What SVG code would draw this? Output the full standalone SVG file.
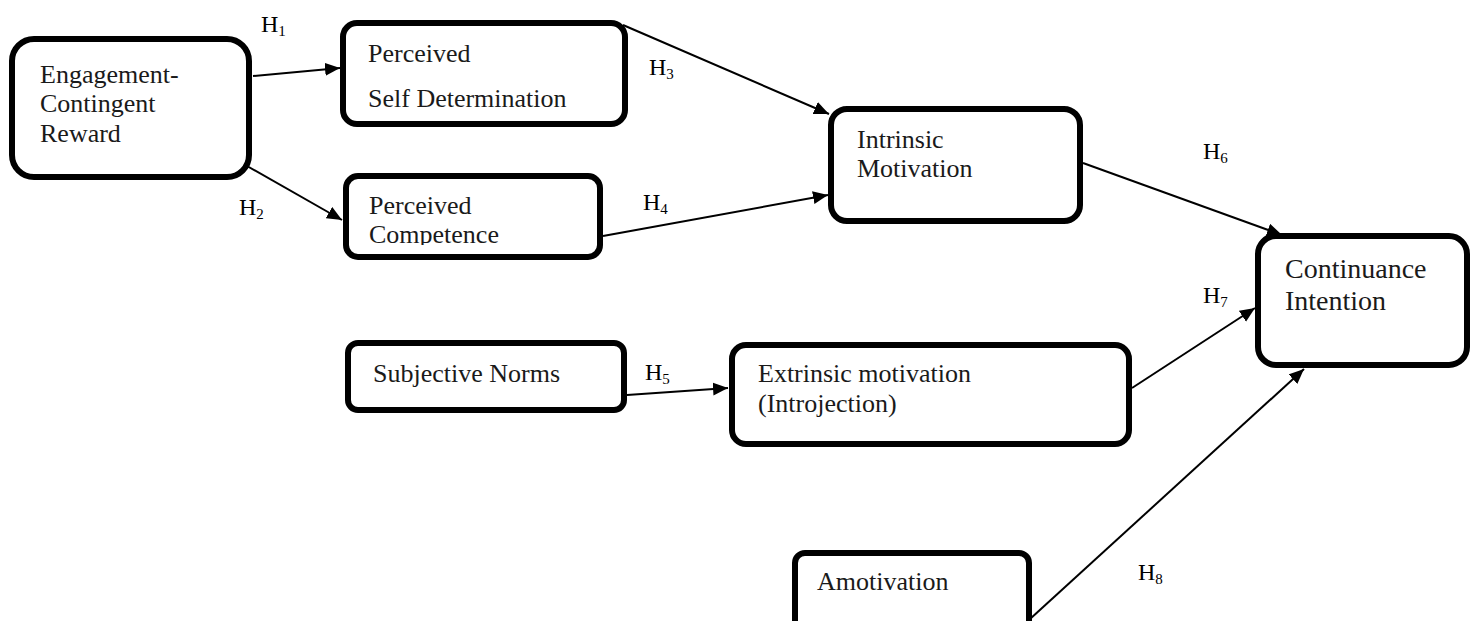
<svg xmlns="http://www.w3.org/2000/svg" width="1476" height="621" viewBox="0 0 1476 621">
<style>
.box{fill:#fff;stroke:#000;stroke-width:6}
.t{font-family:"Liberation Serif","Times New Roman","DejaVu Serif",serif;font-size:26px;fill:#1a1a1a}
.h{font-family:"Liberation Serif","Times New Roman","DejaVu Serif",serif;font-size:24px;fill:#000}
.s{font-size:15px}
.c{stroke:#000;stroke-width:2;fill:none;marker-end:url(#ah)}
</style>
<defs>
<marker id="ah" markerWidth="16" markerHeight="14" refX="15" refY="6.5" orient="auto" markerUnits="userSpaceOnUse">
<path d="M0,0 L15,6.5 L0,13 Z" fill="#000"/>
</marker>
<clipPath id="pcclip"><rect x="346" y="176" width="254" height="69"/></clipPath>
</defs>
<rect width="1476" height="621" fill="#fff"/>
<g id="connectors">
<line class="c" x1="253" y1="76" x2="340" y2="68"/>
<line class="c" x1="240" y1="162" x2="342" y2="220"/>
<line class="c" x1="623" y1="25" x2="829" y2="114"/>
<line class="c" x1="603" y1="236" x2="828" y2="195"/>
<line class="c" x1="1083" y1="163" x2="1282" y2="235"/>
<line class="c" x1="627" y1="395" x2="728" y2="388"/>
<line class="c" x1="1132" y1="388" x2="1255" y2="308"/>
<line class="c" x1="1030" y1="619" x2="1304" y2="369"/>
</g>
<g id="labels">
<text class="h" x="261" y="32">H<tspan class="s" dy="4">1</tspan></text>
<text class="h" x="239" y="215">H<tspan class="s" dy="4">2</tspan></text>
<text class="h" x="649" y="75">H<tspan class="s" dy="4">3</tspan></text>
<text class="h" x="643" y="210">H<tspan class="s" dy="4">4</tspan></text>
<text class="h" x="645" y="380">H<tspan class="s" dy="4">5</tspan></text>
<text class="h" x="1203" y="159">H<tspan class="s" dy="4">6</tspan></text>
<text class="h" x="1203" y="303">H<tspan class="s" dy="4">7</tspan></text>
<text class="h" x="1138" y="580">H<tspan class="s" dy="4">8</tspan></text>
</g>
<g id="engagement">
<rect class="box" x="12" y="39" width="237" height="138" rx="22"/>
<text class="t" x="40" y="83">Engagement-</text>
<text class="t" x="40" y="112">Contingent</text>
<text class="t" x="40" y="142">Reward</text>
</g>
<g id="self-determination">
<rect class="box" x="343" y="23" width="282" height="101" rx="14"/>
<text class="t" x="368" y="62">Perceived</text>
<text class="t" x="368" y="107">Self Determination</text>
</g>
<g id="competence">
<rect class="box" x="346" y="176" width="254" height="81" rx="12"/>
<g clip-path="url(#pcclip)">
<text class="t" x="369" y="214">Perceived</text>
<text class="t" x="369" y="243">Competence</text>
</g>
</g>
<g id="intrinsic">
<rect class="box" x="831" y="109" width="249" height="112" rx="16"/>
<text class="t" x="857" y="148">Intrinsic</text>
<text class="t" x="857" y="177">Motivation</text>
</g>
<g id="continuance">
<rect class="box" x="1258" y="236" width="209" height="129" rx="18"/>
<text class="t" x="1285" y="278" style="font-size:28px">Continuance</text>
<text class="t" x="1285" y="310" style="font-size:28px">Intention</text>
</g>
<g id="subjective">
<rect class="box" x="348" y="343" width="276" height="67" rx="10"/>
<text class="t" x="373" y="382">Subjective Norms</text>
</g>
<g id="extrinsic">
<rect class="box" x="732" y="345" width="397" height="99" rx="14"/>
<text class="t" x="758" y="382">Extrinsic motivation</text>
<text class="t" x="758" y="412">(Introjection)</text>
</g>
<g id="amotivation">
<rect class="box" x="795" y="553" width="234" height="80" rx="10"/>
<text class="t" x="817" y="590">Amotivation</text>
</g>
</svg>
